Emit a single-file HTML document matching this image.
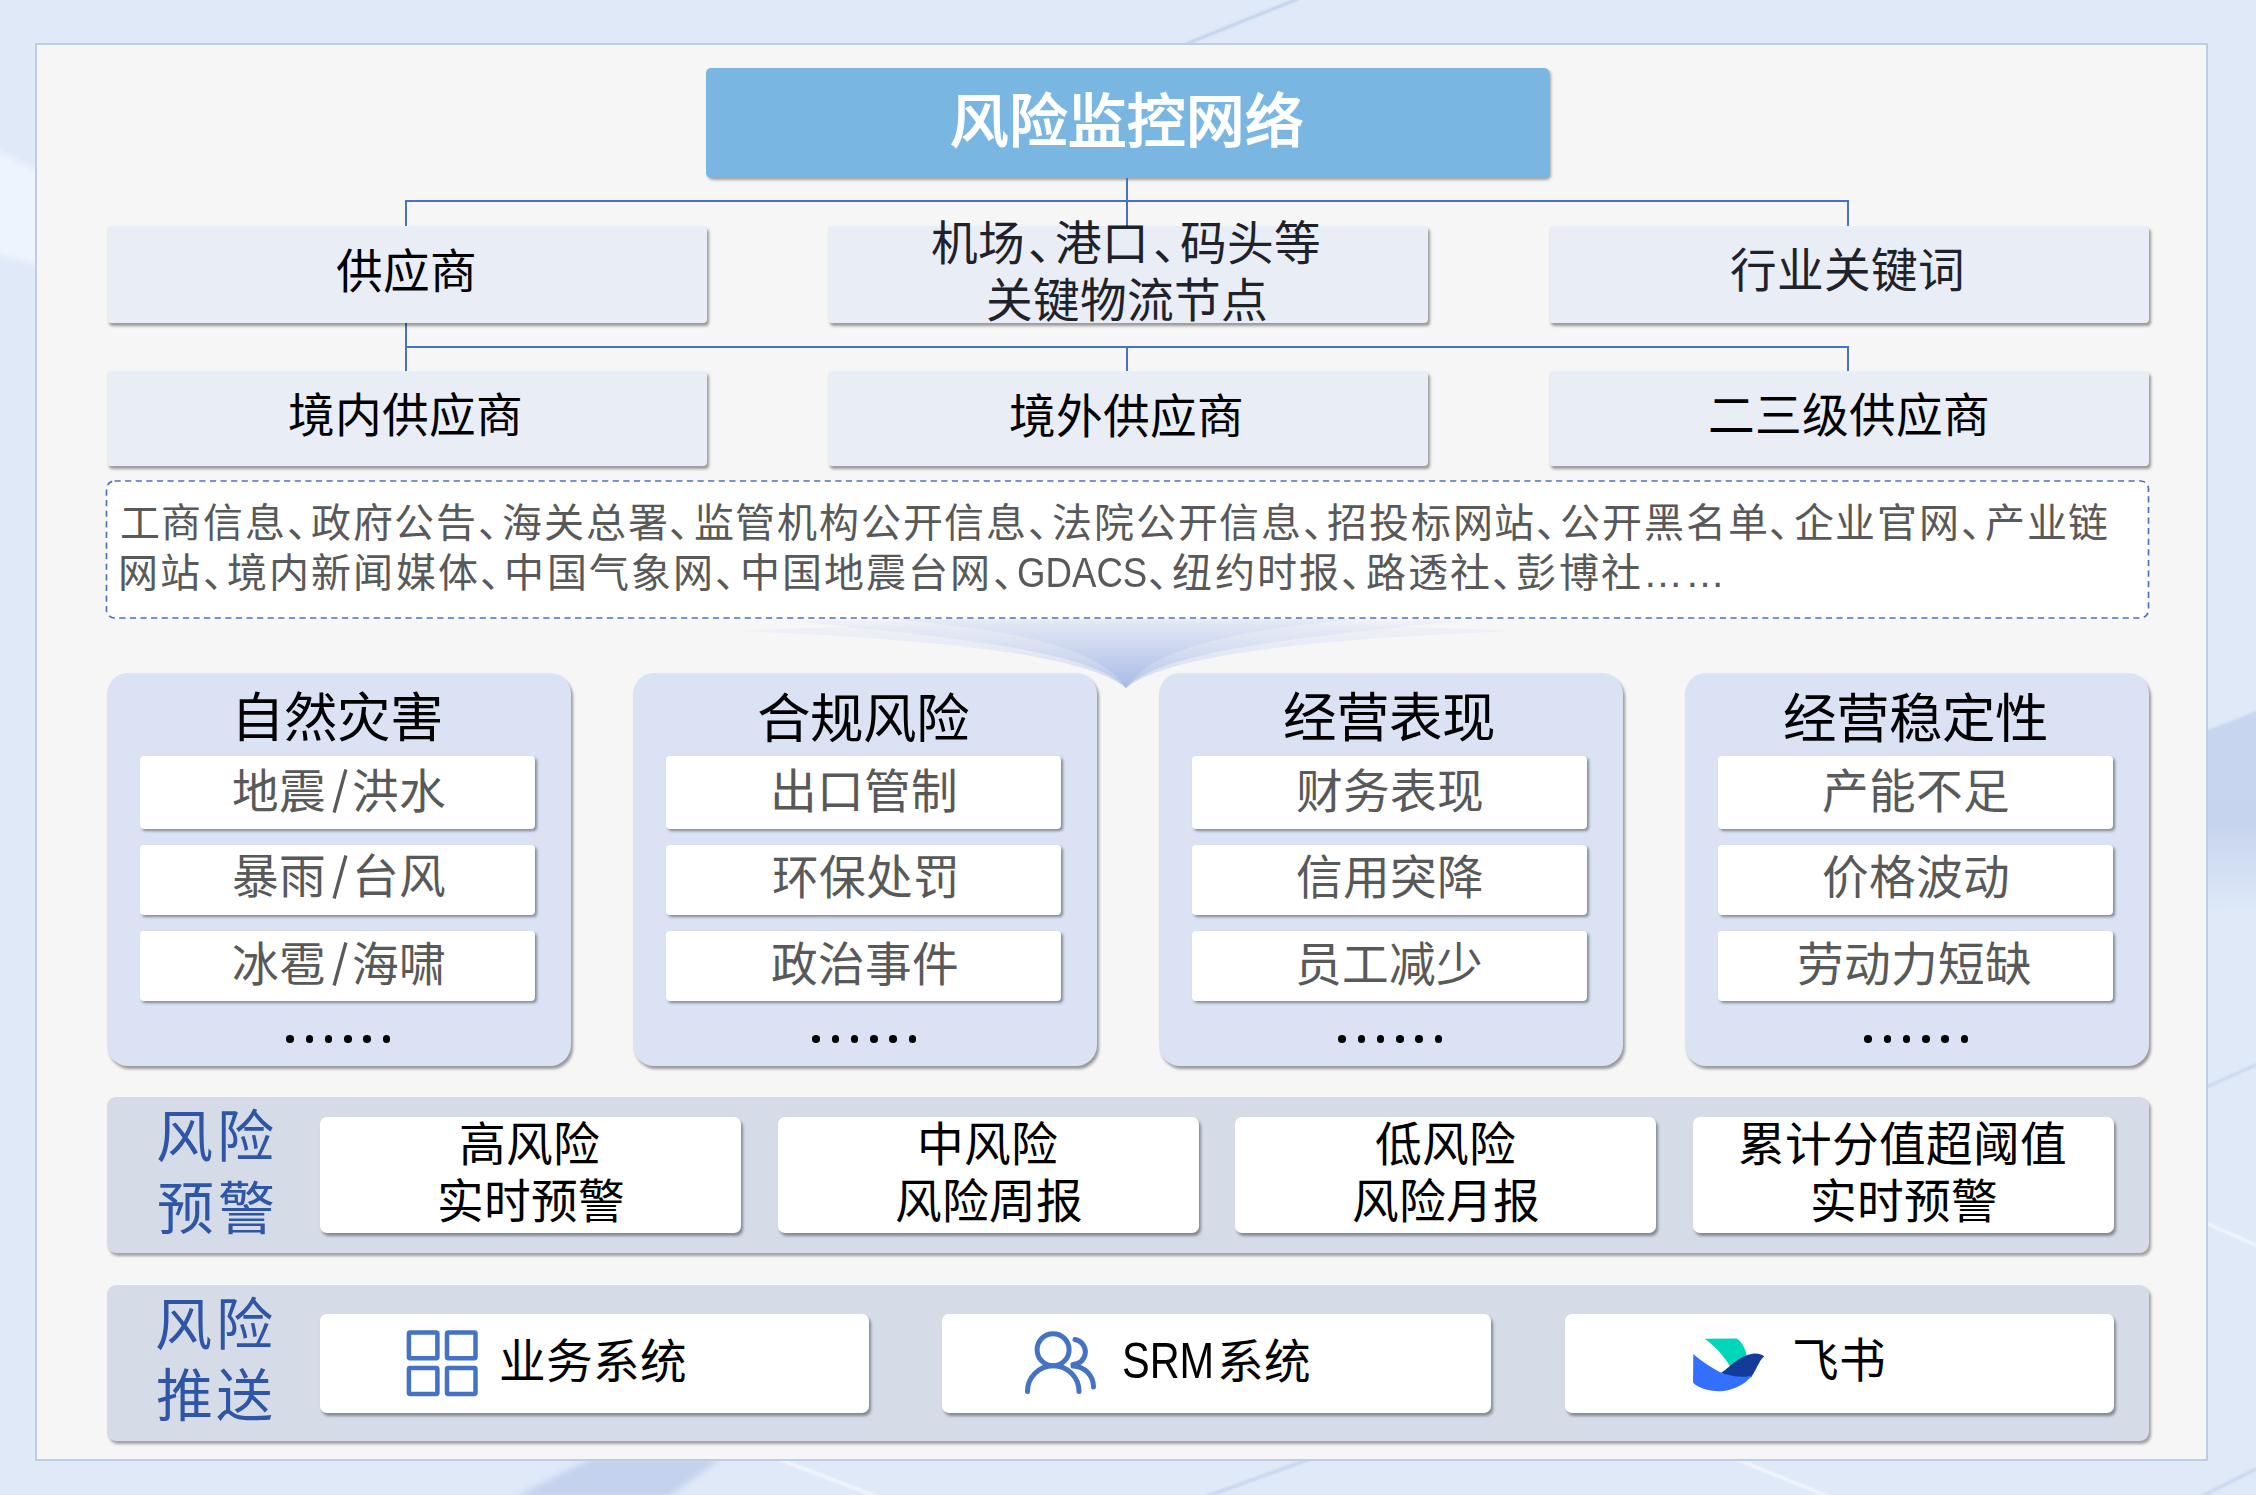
<!DOCTYPE html>
<html lang="zh-CN">
<head>
<meta charset="utf-8">
<title>风险监控网络</title>
<style>
html,body{margin:0;padding:0;}
body{width:2256px;height:1495px;overflow:hidden;position:relative;
  font-family:"Liberation Sans",sans-serif;background:#e0e9f8;}
.abs{position:absolute;box-sizing:border-box;}
.tx{position:absolute;white-space:nowrap;}
.bg1{left:0;top:0;width:2256px;height:1495px;
  background:#e0e9f8;}
.panel{left:35px;top:43px;width:2173px;height:1418px;background:#f6f6f6;border:2px solid #bdcde5;}
.title{left:706px;top:68px;width:843px;height:110px;background:#79b6e2;border-radius:5px;
  box-shadow:2px 2px 3px rgba(0,0,0,0.35);}
.node{background:#e9edf6;border-radius:4px;box-shadow:2px 3px 3px rgba(0,0,0,0.38);}
.ln{background:#4472c4;}
.dash{left:106px;top:480px;width:2044px;height:139px;background:#fff;border:2px dashed #4a6cb4;border-radius:8px;}
.cat{background:#dae2f4;border-radius:21px;box-shadow:2px 3px 3px rgba(0,0,0,0.38);}
.item{background:#fff;border-radius:4px;box-shadow:2px 2px 3px rgba(0,0,0,0.4);}
.row{left:107px;width:2042px;background:#d5dce7;border-radius:9px;box-shadow:2px 3px 3px rgba(0,0,0,0.35);}
.card{background:#fff;border-radius:7px;box-shadow:2px 3px 3px rgba(0,0,0,0.38);}
.p{font-feature-settings:"halt";}
.sl{display:inline-block;vertical-align:top;margin-top:0.6px;}
.gd{display:inline-block;width:131px;letter-spacing:0;}
.gd span{display:inline-block;font-size:43px;transform:scaleX(0.852);transform-origin:0 50%;}
.srm{display:inline-block;width:95px;letter-spacing:0;}
.srm span{display:inline-block;font-size:49.5px;transform:scaleX(0.838);transform-origin:0 50%;}
#jc1 .p{margin:0 3.2px;}
#src1 .p,#src2 .p{margin-right:2.3px;}
.dots{height:10px;white-space:nowrap;font-size:0;}
.dots i{position:absolute;top:0;width:7.5px;height:7.5px;border-radius:50%;background:#000;}
</style>
</head>
<body>
<div class="abs bg1"></div>
<svg class="abs" style="left:0;top:0;" width="2256" height="1495" viewBox="0 0 2256 1495">
  <defs>
    <filter id="b3" x="-20%" y="-20%" width="140%" height="140%"><feGaussianBlur stdDeviation="3"/></filter>
    <filter id="b1" x="-20%" y="-20%" width="140%" height="140%"><feGaussianBlur stdDeviation="1"/></filter>
  </defs>
  <polygon points="-12,146 40,172 40,266 -12,252" fill="#eef4fd" filter="url(#b3)"/>
  <linearGradient id="rw" x1="0" y1="0" x2="0" y2="1"><stop offset="0" stop-color="#c8d6ef" stop-opacity="1"/><stop offset="0.55" stop-color="#c6d4ed" stop-opacity="1"/><stop offset="1" stop-color="#c6d4ee" stop-opacity="0"/></linearGradient>
  <polygon points="2200,733 2264,708 2264,905 2200,915" fill="url(#rw)" filter="url(#b1)"/>
  <line x1="1186" y1="44" x2="1300" y2="-2" stroke="#bccdea" stroke-width="2.5" filter="url(#b1)"/>
  <polygon points="515,1497 592,1458 722,1458 668,1497" fill="#c4d2ed" filter="url(#b3)"/>
  <line x1="778" y1="1459" x2="878" y2="1497" stroke="#f3f7fe" stroke-width="3" filter="url(#b1)"/>
  <line x1="1205" y1="1497" x2="1310" y2="1459" stroke="#c6d4ee" stroke-width="3" filter="url(#b1)"/>
  <line x1="1736" y1="1459" x2="1830" y2="1497" stroke="#f3f7fe" stroke-width="3" filter="url(#b1)"/>
  <line x1="2200" y1="1497" x2="2258" y2="1468" stroke="#c6d4ee" stroke-width="3" filter="url(#b1)"/>
  <line x1="2204" y1="1088" x2="2258" y2="1064" stroke="#c9d6ef" stroke-width="3" filter="url(#b1)"/>
  <line x1="2204" y1="1222" x2="2258" y2="1246" stroke="#f3f7fe" stroke-width="3" filter="url(#b1)"/>
</svg>
<div class="abs panel"></div>

<!-- title -->
<div class="abs title"></div>

<!-- connectors -->
<div class="abs ln" style="left:1126px;top:178px;width:2px;height:24px;"></div>
<div class="abs ln" style="left:405px;top:200px;width:1444px;height:2px;"></div>
<div class="abs ln" style="left:405px;top:200px;width:2px;height:26px;"></div>
<div class="abs ln" style="left:1126px;top:200px;width:2px;height:26px;"></div>
<div class="abs ln" style="left:1847px;top:200px;width:2px;height:26px;"></div>
<div class="abs ln" style="left:405px;top:323px;width:2px;height:48px;"></div>
<div class="abs ln" style="left:405px;top:346px;width:1444px;height:2px;"></div>
<div class="abs ln" style="left:1126px;top:346px;width:2px;height:25px;"></div>
<div class="abs ln" style="left:1847px;top:346px;width:2px;height:25px;"></div>

<!-- row 1 / row 2 -->
<div class="abs node" style="left:107px;top:226px;width:600px;height:97px;"></div>
<div class="abs node" style="left:828px;top:226px;width:600px;height:97px;"></div>
<div class="abs node" style="left:1549px;top:226px;width:600px;height:97px;"></div>
<div class="abs node" style="left:107px;top:371px;width:600px;height:95px;"></div>
<div class="abs node" style="left:828px;top:371px;width:600px;height:95px;"></div>
<div class="abs node" style="left:1549px;top:371px;width:600px;height:95px;"></div>

<!-- dashed sources box -->
<svg class="abs" style="left:0;top:0;" width="2256" height="1495" viewBox="0 0 2256 1495">
  <rect x="106.5" y="481" width="2042" height="137" rx="8" ry="8" fill="#fff" stroke="#5272b8" stroke-width="1.7" stroke-dasharray="6.2 4.4"/>
</svg>

<!-- funnel -->
<svg class="abs" style="left:0;top:0;" width="2256" height="1495" viewBox="0 0 2256 1495">
  <defs>
    <linearGradient id="fg1" gradientUnits="userSpaceOnUse" x1="0" y1="619" x2="0" y2="690">
      <stop offset="0" stop-color="#e6eaf5" stop-opacity="0.5"/>
      <stop offset="1" stop-color="#a9bce7" stop-opacity="1"/>
    </linearGradient>
    <linearGradient id="fg2" gradientUnits="userSpaceOnUse" x1="0" y1="619" x2="0" y2="690">
      <stop offset="0" stop-color="#e2e8f5" stop-opacity="0.6"/>
      <stop offset="1" stop-color="#a6bae6" stop-opacity="1"/>
    </linearGradient>
    <linearGradient id="fg3" gradientUnits="userSpaceOnUse" x1="0" y1="619" x2="0" y2="690">
      <stop offset="0" stop-color="#dfe5f4" stop-opacity="0.7"/>
      <stop offset="1" stop-color="#a3b7e5" stop-opacity="1"/>
    </linearGradient>
  </defs>
  <path d="M741,631 C900,638 1080,650 1126,688 C1172,650 1352,638 1511,631 C1350,621 900,621 741,631 Z" fill="url(#fg1)" opacity="0.55"/>
  <path d="M795,621 C930,636 1090,648 1126,688 C1162,648 1322,636 1457,621 Z" fill="url(#fg2)" opacity="0.7"/>
  <path d="M888,619 C1000,628 1100,645 1126,688 C1152,645 1252,628 1364,619 Z" fill="url(#fg3)" opacity="0.85"/>
</svg>

<!-- categories -->
<div class="abs cat" style="left:107px;top:673px;width:464px;height:393px;"></div>
<div class="abs cat" style="left:633px;top:673px;width:464px;height:393px;"></div>
<div class="abs cat" style="left:1159px;top:673px;width:464px;height:393px;"></div>
<div class="abs cat" style="left:1685px;top:673px;width:464px;height:393px;"></div>

<div class="abs item" style="left:140px;top:756px;width:395px;height:73px;"></div>
<div class="abs item" style="left:140px;top:845px;width:395px;height:70px;"></div>
<div class="abs item" style="left:140px;top:931px;width:395px;height:70px;"></div>
<div class="abs item" style="left:666px;top:756px;width:395px;height:73px;"></div>
<div class="abs item" style="left:666px;top:845px;width:395px;height:70px;"></div>
<div class="abs item" style="left:666px;top:931px;width:395px;height:70px;"></div>
<div class="abs item" style="left:1192px;top:756px;width:395px;height:73px;"></div>
<div class="abs item" style="left:1192px;top:845px;width:395px;height:70px;"></div>
<div class="abs item" style="left:1192px;top:931px;width:395px;height:70px;"></div>
<div class="abs item" style="left:1718px;top:756px;width:395px;height:73px;"></div>
<div class="abs item" style="left:1718px;top:845px;width:395px;height:70px;"></div>
<div class="abs item" style="left:1718px;top:931px;width:395px;height:70px;"></div>

<div class="abs dots" style="left:286.3px;top:1035.3px;"><i style="left:0"></i><i style="left:19.3px"></i><i style="left:38.6px"></i><i style="left:57.9px"></i><i style="left:77.2px"></i><i style="left:96.5px"></i></div>
<div class="abs dots" style="left:812.3px;top:1035.3px;"><i style="left:0"></i><i style="left:19.3px"></i><i style="left:38.6px"></i><i style="left:57.9px"></i><i style="left:77.2px"></i><i style="left:96.5px"></i></div>
<div class="abs dots" style="left:1338.3px;top:1035.3px;"><i style="left:0"></i><i style="left:19.3px"></i><i style="left:38.6px"></i><i style="left:57.9px"></i><i style="left:77.2px"></i><i style="left:96.5px"></i></div>
<div class="abs dots" style="left:1864.3px;top:1035.3px;"><i style="left:0"></i><i style="left:19.3px"></i><i style="left:38.6px"></i><i style="left:57.9px"></i><i style="left:77.2px"></i><i style="left:96.5px"></i></div>

<!-- warning row -->
<div class="abs row" style="top:1097px;height:156px;"></div>
<div class="abs card" style="left:320px;top:1117px;width:421px;height:116px;"></div>
<div class="abs card" style="left:778px;top:1117px;width:421px;height:116px;"></div>
<div class="abs card" style="left:1235px;top:1117px;width:421px;height:116px;"></div>
<div class="abs card" style="left:1693px;top:1117px;width:421px;height:116px;"></div>

<!-- push row -->
<div class="abs row" style="top:1285px;height:156px;"></div>
<div class="abs card" style="left:320px;top:1314px;width:549px;height:99px;"></div>
<div class="abs card" style="left:942px;top:1314px;width:549px;height:99px;"></div>
<div class="abs card" style="left:1565px;top:1314px;width:549px;height:99px;"></div>

<!-- icon: business grid -->
<svg class="abs" style="left:400px;top:1325px;" width="85" height="80" viewBox="400 1325 85 80">
  <g fill="none" stroke="#4472c4" stroke-width="4.5">
    <rect x="408.9" y="1332.4" width="28.5" height="25.9" rx="1.2"/>
    <rect x="447" y="1332.4" width="28.5" height="25.9" rx="1.2"/>
    <rect x="408.9" y="1368.1" width="28.5" height="25.9" rx="1.2"/>
    <rect x="447" y="1368.1" width="28.5" height="25.9" rx="1.2"/>
  </g>
</svg>

<!-- icon: users -->
<svg class="abs" style="left:1015px;top:1320px;" width="90" height="85" viewBox="1015 1320 90 85">
  <g fill="none" stroke="#4472c4" stroke-width="5" stroke-linecap="round">
    <circle cx="1053.1" cy="1349.7" r="16"/>
    <path d="M1027.5,1391.5 A25.7,25.7 0 0 1 1079,1391.5"/>
    <path d="M1075,1339.5 A12.6,12.6 0 0 1 1073,1364.5"/>
    <path d="M1073,1366 A21,21 0 0 1 1093.5,1387"/>
  </g>
</svg>

<!-- icon: feishu -->
<svg class="abs" style="left:1680px;top:1325px;" width="95" height="75" viewBox="0 0 1894 1495">
  <path d="M495,275 L1120,270 C1200,290 1300,450 1330,600 L1000,830 C900,650 700,420 495,275 Z" fill="#00d6b9"/>
  <path d="M820,950 C1000,850 1150,620 1470,570 C1560,565 1640,590 1680,625 C1580,700 1520,900 1420,1040 L1000,1040 Z" fill="#133c9a"/>
  <path d="M265,580 C450,740 650,870 820,950 C1000,1015 1250,1065 1440,1000 C1300,1200 1000,1320 780,1320 C550,1320 350,1230 280,1170 C265,1160 260,1140 260,1120 Z" fill="#3370ff"/>
</svg>

<div class="tx" id="title" style="left:950.00px;top:92.50px;font-size:58.5px;line-height:58.5px;color:#fff;font-weight:bold;letter-spacing:0.000px;">风险监控网络</div>
<div class="tx" id="gys" style="left:335.50px;top:248.50px;font-size:46.7px;line-height:46.7px;color:#000;font-weight:normal;letter-spacing:0.000px;">供应商</div>
<div class="tx" id="jc1" style="left:931.00px;top:221.00px;font-size:46.7px;line-height:46.7px;color:#1f2329;font-weight:normal;letter-spacing:0.000px;">机场<span class="p">、</span>港口<span class="p">、</span>码头等</div>
<div class="tx" id="jc2" style="left:985.65px;top:277.80px;font-size:46.7px;line-height:46.7px;color:#1f2329;font-weight:normal;letter-spacing:0.000px;">关键物流节点</div>
<div class="tx" id="hy" style="left:1729.90px;top:248.30px;font-size:46.7px;line-height:46.7px;color:#1f2329;font-weight:normal;letter-spacing:0.000px;">行业关键词</div>
<div class="tx" id="jn" style="left:288.20px;top:393.35px;font-size:46.7px;line-height:46.7px;color:#000;font-weight:normal;letter-spacing:0.000px;">境内供应商</div>
<div class="tx" id="jw" style="left:1009.35px;top:394.30px;font-size:46.7px;line-height:46.7px;color:#000;font-weight:normal;letter-spacing:0.000px;">境外供应商</div>
<div class="tx" id="ers" style="left:1707.50px;top:392.60px;font-size:46.7px;line-height:46.7px;color:#000;font-weight:normal;letter-spacing:0.000px;">二三级供应商</div>
<div class="tx" id="src1" style="left:119.50px;top:502.60px;font-size:40px;line-height:40px;color:#595959;font-weight:normal;letter-spacing:1.812px;">工商信息<span class="p">、</span>政府公告<span class="p">、</span>海关总署<span class="p">、</span>监管机构公开信息<span class="p">、</span>法院公开信息<span class="p">、</span>招投标网站<span class="p">、</span>公开黑名单<span class="p">、</span>企业官网<span class="p">、</span>产业链</div>
<div class="tx" id="src2" style="left:118.25px;top:551.75px;font-size:40px;line-height:40px;color:#595959;font-weight:normal;letter-spacing:2.152px;">网站<span class="p">、</span>境内新闻媒体<span class="p">、</span>中国气象网<span class="p">、</span>中国地震台网<span class="p">、</span><span class="gd"><span>GDACS</span></span><span class="p">、</span>纽约时报<span class="p">、</span>路透社<span class="p">、</span>彭博社……</div>
<div class="tx" id="cat0" style="left:230.60px;top:691.95px;font-size:53.5px;line-height:53.5px;color:#000;font-weight:normal;letter-spacing:0.000px;">自然灾害</div>
<div class="tx" id="it00" style="left:232.25px;top:768.70px;font-size:46.7px;line-height:46.7px;color:#595959;font-weight:normal;letter-spacing:0.000px;">地震<svg class="sl" width="26" height="44" viewBox="0 0 26 44"><line x1="8.1" y1="43.5" x2="19.9" y2="0.5" stroke="#595959" stroke-width="3.3"/></svg>洪水</div>
<div class="tx" id="it01" style="left:232.25px;top:854.35px;font-size:46.7px;line-height:46.7px;color:#595959;font-weight:normal;letter-spacing:0.000px;">暴雨<svg class="sl" width="26" height="44" viewBox="0 0 26 44"><line x1="8.1" y1="43.5" x2="19.9" y2="0.5" stroke="#595959" stroke-width="3.3"/></svg>台风</div>
<div class="tx" id="it02" style="left:232.25px;top:941.50px;font-size:46.7px;line-height:46.7px;color:#595959;font-weight:normal;letter-spacing:0.000px;">冰雹<svg class="sl" width="26" height="44" viewBox="0 0 26 44"><line x1="8.1" y1="43.5" x2="19.9" y2="0.5" stroke="#595959" stroke-width="3.3"/></svg>海啸</div>
<div class="tx" id="cat1" style="left:756.60px;top:692.75px;font-size:53.5px;line-height:53.5px;color:#000;font-weight:normal;letter-spacing:0.000px;">合规风险</div>
<div class="tx" id="it10" style="left:770.23px;top:768.70px;font-size:46.7px;line-height:46.7px;color:#595959;font-weight:normal;letter-spacing:0.000px;">出口管制</div>
<div class="tx" id="it11" style="left:772.23px;top:854.85px;font-size:46.7px;line-height:46.7px;color:#595959;font-weight:normal;letter-spacing:0.000px;">环保处罚</div>
<div class="tx" id="it12" style="left:770.73px;top:941.50px;font-size:46.7px;line-height:46.7px;color:#595959;font-weight:normal;letter-spacing:0.000px;">政治事件</div>
<div class="tx" id="cat2" style="left:1283.40px;top:691.95px;font-size:53.5px;line-height:53.5px;color:#000;font-weight:normal;letter-spacing:0.000px;">经营表现</div>
<div class="tx" id="it20" style="left:1295.73px;top:768.70px;font-size:46.7px;line-height:46.7px;color:#595959;font-weight:normal;letter-spacing:0.000px;">财务表现</div>
<div class="tx" id="it21" style="left:1295.73px;top:854.85px;font-size:46.7px;line-height:46.7px;color:#595959;font-weight:normal;letter-spacing:0.000px;">信用突降</div>
<div class="tx" id="it22" style="left:1295.23px;top:941.50px;font-size:46.7px;line-height:46.7px;color:#595959;font-weight:normal;letter-spacing:0.000px;">员工减少</div>
<div class="tx" id="cat3" style="left:1783.15px;top:692.80px;font-size:53.5px;line-height:53.5px;color:#000;font-weight:normal;letter-spacing:0.000px;">经营稳定性</div>
<div class="tx" id="it30" style="left:1821.63px;top:768.70px;font-size:46.7px;line-height:46.7px;color:#595959;font-weight:normal;letter-spacing:0.000px;">产能不足</div>
<div class="tx" id="it31" style="left:1822.13px;top:854.85px;font-size:46.7px;line-height:46.7px;color:#595959;font-weight:normal;letter-spacing:0.000px;">价格波动</div>
<div class="tx" id="it32" style="left:1797.28px;top:942.00px;font-size:46.7px;line-height:46.7px;color:#595959;font-weight:normal;letter-spacing:0.000px;">劳动力短缺</div>
<div class="tx" id="lw1" style="left:155.90px;top:1109.00px;font-size:57px;line-height:57px;color:#2f55a6;font-weight:normal;letter-spacing:3.800px;">风险</div>
<div class="tx" id="lw2" style="left:156.90px;top:1180.50px;font-size:57px;line-height:57px;color:#2f55a6;font-weight:normal;letter-spacing:3.800px;">预警</div>
<div class="tx" id="lp1" style="left:155.00px;top:1297.05px;font-size:57px;line-height:57px;color:#2f55a6;font-weight:normal;letter-spacing:3.600px;">风险</div>
<div class="tx" id="lp2" style="left:156.00px;top:1368.00px;font-size:57px;line-height:57px;color:#2f55a6;font-weight:normal;letter-spacing:2.600px;">推送</div>
<div class="tx" id="ca0" style="left:459.38px;top:1121.60px;font-size:46.7px;line-height:46.7px;color:#000;font-weight:normal;letter-spacing:0.000px;">高风险</div>
<div class="tx" id="cb0" style="left:436.53px;top:1178.95px;font-size:46.7px;line-height:46.7px;color:#000;font-weight:normal;letter-spacing:0.000px;">实时预警</div>
<div class="tx" id="ca1" style="left:916.88px;top:1121.60px;font-size:46.7px;line-height:46.7px;color:#000;font-weight:normal;letter-spacing:0.000px;">中风险</div>
<div class="tx" id="cb1" style="left:894.53px;top:1178.95px;font-size:46.7px;line-height:46.7px;color:#000;font-weight:normal;letter-spacing:0.000px;">风险周报</div>
<div class="tx" id="ca2" style="left:1375.38px;top:1121.60px;font-size:46.7px;line-height:46.7px;color:#000;font-weight:normal;letter-spacing:0.000px;">低风险</div>
<div class="tx" id="cb2" style="left:1351.53px;top:1178.95px;font-size:46.7px;line-height:46.7px;color:#000;font-weight:normal;letter-spacing:0.000px;">风险月报</div>
<div class="tx" id="ca3" style="left:1738.48px;top:1121.60px;font-size:46.7px;line-height:46.7px;color:#000;font-weight:normal;letter-spacing:0.000px;">累计分值超阈值</div>
<div class="tx" id="cb3" style="left:1809.53px;top:1178.95px;font-size:46.7px;line-height:46.7px;color:#000;font-weight:normal;letter-spacing:0.000px;">实时预警</div>
<div class="tx" id="p1" style="left:499.10px;top:1339.10px;font-size:46.7px;line-height:46.7px;color:#000;font-weight:normal;letter-spacing:0.000px;">业务系统</div>
<div class="tx" id="p2" style="left:1121.75px;top:1337.60px;font-size:46.7px;line-height:46.7px;color:#000;font-weight:normal;letter-spacing:0.000px;"><span class="srm"><span>SRM</span></span>系统</div>
<div class="tx" id="p3" style="left:1792.20px;top:1338.00px;font-size:46.7px;line-height:46.7px;color:#000;font-weight:normal;letter-spacing:0.000px;">飞书</div>
</body>
</html>
